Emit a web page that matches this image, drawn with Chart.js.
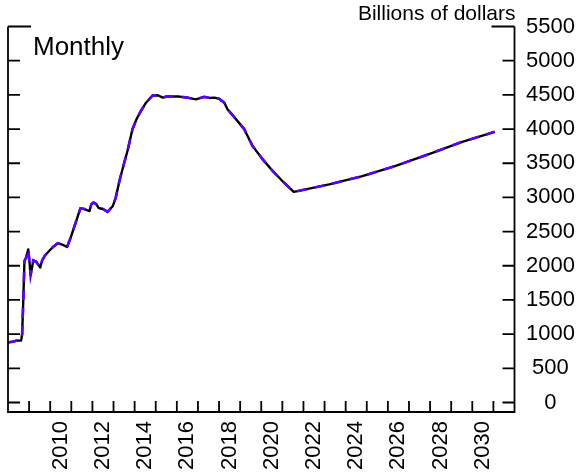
<!DOCTYPE html>
<html>
<head>
<meta charset="utf-8">
<script src="https://cdn.jsdelivr.net/npm/chart.js@4/dist/chart.umd.min.js"></script>
<style>
  html, body { margin: 0; padding: 0; background: #ffffff; }
  #wrap { position: relative; width: 580px; height: 475px; }
</style>
</head>
<body>
<div id="wrap"><canvas id="chart"></canvas></div>
<script>
// Decimal year of each observation / projection point
const dates = [
  2008.00, 2008.25, 2008.40, 2008.62, 2008.67, 2008.72, 2008.78, 2008.86, 2008.96,
  2009.02, 2009.07, 2009.13, 2009.20, 2009.33, 2009.45, 2009.53, 2009.62, 2009.75, 2009.96,
  2010.15, 2010.36, 2010.60, 2010.80, 2010.99, 2011.19, 2011.43, 2011.62, 2011.86, 2011.95,
  2012.05, 2012.17, 2012.30, 2012.50, 2012.72, 2012.96, 2013.10, 2013.28, 2013.50, 2013.67,
  2013.90, 2014.10, 2014.30, 2014.54, 2014.85, 2015.10, 2015.33, 2015.56, 2015.85, 2016.12,
  2016.50, 2016.90, 2017.30, 2017.55, 2017.77, 2018.00, 2018.25, 2018.40, 2018.80, 2019.19,
  2019.58, 2020.06, 2020.53, 2021.00, 2021.25, 2021.54, 2023.22, 2024.79, 2026.37, 2027.95,
  2029.52, 2031.06
];

// Total assets, billions of dollars
const assets = [
  880, 890, 905, 905, 1000, 1450, 2070, 2120, 2240,
  2050, 1860, 1960, 2080, 2060, 2010, 1975, 2080, 2150, 2220,
  2280, 2330, 2305, 2275, 2430, 2615, 2840, 2830, 2800, 2900,
  2925, 2905, 2845, 2830, 2790, 2870, 2990, 3240, 3500, 3690,
  4000, 4150, 4265, 4385, 4490, 4495, 4460, 4480, 4475, 4475,
  4460, 4435, 4470, 4455, 4460, 4445, 4385, 4290, 4145, 4000,
  3755, 3560, 3390, 3240, 3165, 3080, 3190, 3311, 3462, 3633,
  3813, 3959
];

// Same path, drawn as the dashed overlay
const assetsOverlay = assets.slice();

const yearLabels = ['2010', '2012', '2014', '2016', '2018', '2020', '2022', '2024', '2026', '2028', '2030'];
const yTickValues = [0, 500, 1000, 1500, 2000, 2500, 3000, 3500, 4000, 4500, 5000, 5500];
const yearTicks = [2009, 2010, 2011, 2012, 2013, 2014, 2015, 2016, 2017, 2018, 2019, 2020,
                   2021, 2022, 2023, 2024, 2025, 2026, 2027, 2028, 2029, 2030, 2031];

const FONT = 'Liberation Sans, Arial, Helvetica, sans-serif';
const toPoints = vals => vals.map((v, i) => ({ x: dates[i], y: v }));

// Box frame with inward tick marks on left, right and bottom, plus text annotations
const framePlugin = {
  id: 'frame',
  afterDraw(chart) {
    const { ctx, chartArea: a, scales: { x, y } } = chart;
    const top = y.getPixelForValue(5500);
    ctx.save();
    ctx.strokeStyle = '#000000';
    ctx.lineWidth = 1.8;
    ctx.lineCap = 'butt';
    ctx.setLineDash([]);
    ctx.beginPath();
    ctx.moveTo(a.left, top);
    ctx.lineTo(a.left, a.bottom);
    ctx.lineTo(a.right, a.bottom);
    ctx.lineTo(a.right, top);
    // y ticks on both sides
    yTickValues.forEach(v => {
      const py = y.getPixelForValue(v);
      const len = v === 5500 ? 23 : 12;
      ctx.moveTo(a.left, py); ctx.lineTo(a.left + len, py);
      ctx.moveTo(a.right - len, py); ctx.lineTo(a.right, py);
    });
    // yearly ticks along the bottom
    yearTicks.forEach(t => {
      const px = x.getPixelForValue(t);
      ctx.moveTo(px, a.bottom); ctx.lineTo(px, a.bottom - 11);
    });
    ctx.stroke();

    ctx.fillStyle = '#000000';
    ctx.textBaseline = 'alphabetic';
    ctx.font = '26px ' + FONT;
    ctx.textAlign = 'left';
    ctx.fillText('Monthly', 33, 55);
    ctx.font = '21px ' + FONT;
    ctx.textAlign = 'right';
    ctx.fillText('Billions of dollars', a.right + 1, 20);
    ctx.restore();
  }
};

new Chart(document.getElementById('chart'), {
  type: 'line',
  data: {
    datasets: [
      {
        label: 'Projection',
        data: toPoints(assetsOverlay),
        borderColor: '#5a00ff',
        borderWidth: 2.6,
        borderDash: [10, 8],
        borderCapStyle: 'butt',
        borderJoinStyle: 'miter',
        pointRadius: 0,
        tension: 0,
        fill: false,
        order: 0
      },
      {
        label: 'Total assets',
        data: toPoints(assets),
        borderColor: '#000000',
        borderWidth: 2.4,
        borderJoinStyle: 'round',
        pointRadius: 0,
        tension: 0,
        fill: false,
        order: 1
      }
    ]
  },
  options: {
    responsive: true,
    maintainAspectRatio: false,
    animation: false,
    devicePixelRatio: 1,
    layout: { padding: { left: 8, top: 26.5, right: 0, bottom: 0 } },
    plugins: {
      legend: { display: false },
      tooltip: { enabled: false },
      title: { display: false }
    },
    scales: {
      x: {
        type: 'linear',
        position: 'bottom',
        min: 2008,
        max: 2032,
        grid: { display: false, drawTicks: false },
        border: { display: false },
        afterBuildTicks: scale => {
          scale.ticks = yearLabels.map(l => ({ value: Number(l) + 0.5 }));
        },
        afterFit: scale => { scale.height = 63; },
        ticks: {
          autoSkip: false,
          minRotation: 90,
          maxRotation: 90,
          padding: 9,
          color: '#000000',
          font: { family: FONT, size: 22 },
          callback: value => String(Math.floor(value))
        }
      },
      y: {
        type: 'linear',
        position: 'right',
        min: -139,
        max: 5500,
        grid: { display: false, drawTicks: false },
        border: { display: false },
        afterBuildTicks: scale => {
          scale.ticks = yTickValues.map(v => ({ value: v }));
        },
        afterFit: scale => { scale.width = 65.5; },
        ticks: {
          crossAlign: 'center',
          padding: 11.5,
          color: '#000000',
          font: { family: FONT, size: 22 },
          callback: value => String(value)
        }
      }
    }
  },
  plugins: [framePlugin]
});
</script>
</body>
</html>
